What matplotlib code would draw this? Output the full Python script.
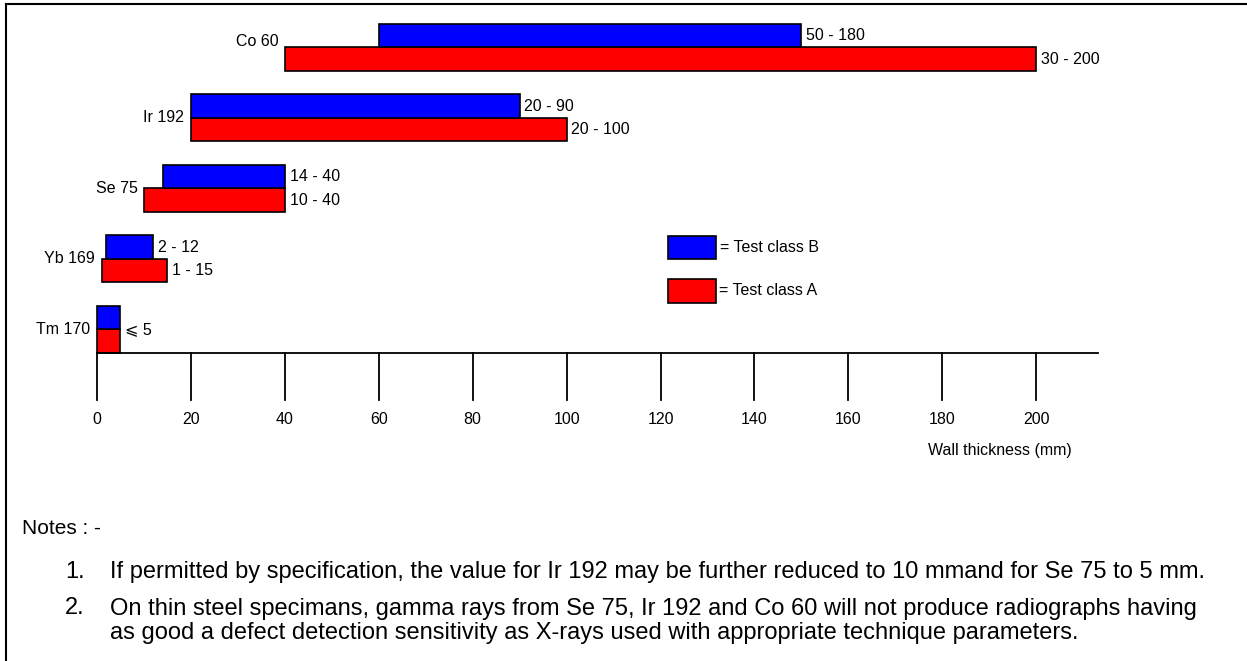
import matplotlib.pyplot as plt
from matplotlib.patches import Rectangle
from matplotlib.lines import Line2D

plt.rcParams["font.family"] = ["Liberation Sans", "DejaVu Sans"]

# Data
isotopes = ["Tm 170", "Yb 169", "Se 75", "Ir 192", "Co 60"]
class_b_start = [0, 2, 14, 20, 60]
class_b_end = [5, 12, 40, 90, 150]
class_a_start = [0, 1, 10, 20, 40]
class_a_end = [5, 15, 40, 100, 200]
class_b_labels = ["", "2 - 12", "14 - 40", "20 - 90", "50 - 180"]
class_a_labels = ["", "1 - 15", "10 - 40", "20 - 100", "30 - 200"]
tm_label = "⩽ 5"
ticks = [0, 20, 40, 60, 80, 100, 120, 140, 160, 180, 200]

notes_title = "Notes : -"
notes = [
    ("1.", "If permitted by specification, the value for Ir 192 may be further reduced to 10 mmand for Se 75 to 5 mm."),
    ("2.", "On thin steel specimans, gamma rays from Se 75, Ir 192 and Co 60 will not produce radiographs having\n"
           "as good a defect detection sensitivity as X-rays used with appropriate technique parameters."),
]

fig = plt.figure(figsize=(12.47, 6.61), dpi=100)
ax = fig.add_axes([0, 0, 1, 1])
ax.set_xlim(-20.66, 244.9)
ax.set_ylim(-4.369, 5.007)
ax.axis("off")

h = 1 / 3
fs = 11.5
for i, name in enumerate(isotopes):
    wa = class_a_end[i] - class_a_start[i]
    wb = class_b_end[i] - class_b_start[i]
    ax.barh(i + h / 2, wa, left=class_a_start[i], height=h,
            color="#ff0000", edgecolor="black", linewidth=1.2, align="center")
    ax.barh(i + 1.5 * h, wb, left=class_b_start[i], height=h,
            color="#0000ff", edgecolor="black", linewidth=1.2, align="center")
    if class_a_labels[i]:
        ax.text(class_a_end[i] + 1, i + h / 2, class_a_labels[i],
                va="center", ha="left", fontsize=fs)
        ax.text(class_b_end[i] + 1, i + 1.5 * h, class_b_labels[i],
                va="center", ha="left", fontsize=fs)
    else:
        ax.text(class_a_end[i] + 1, i + h, tm_label,
                va="center", ha="left", fontsize=fs)
    left = min(class_a_start[i], class_b_start[i])
    ylab = i + h + (0.08 if i == 4 else 0)
    ax.text(left - 1.4, ylab, name, va="center", ha="right", fontsize=fs)

# axis line and ticks
ax.plot([0, 213.2], [0, 0], color="black", linewidth=1.3)
for t in ticks:
    ax.plot([t, t], [0, -0.667], color="black", linewidth=1.3)
    ax.text(t, -0.95, str(t), ha="center", va="center", fontsize=fs)
ax.text(192.3, -1.38, "Wall thickness (mm)", ha="center", va="center", fontsize=fs)

# legend boxes
ax.add_patch(Rectangle((121.6, 1.333), 10.2, 0.33, facecolor="#0000ff",
                       edgecolor="black", linewidth=1.2))
ax.add_patch(Rectangle((121.6, 0.709), 10.2, 0.34, facecolor="#ff0000",
                       edgecolor="black", linewidth=1.2))
ax.text(132.6, 1.5, "= Test class B", va="center", ha="left", fontsize=fs)
ax.text(132.4, 0.88, "= Test class A", va="center", ha="left", fontsize=fs)

# notes
W, H = 1247, 661
nfs = 17
fig.text(22 / W, 1 - 528 / H, notes_title, va="center", ha="left", fontsize=15)
fig.text(65 / W, 1 - 572 / H, notes[0][0], va="center", ha="left", fontsize=nfs)
fig.text(110 / W, 1 - 572 / H, notes[0][1], va="center", ha="left", fontsize=nfs)
fig.text(65 / W, 1 - 608 / H, notes[1][0], va="center", ha="left", fontsize=nfs)
fig.text(110 / W, 1 - 621 / H, notes[1][1], va="center", ha="left", fontsize=nfs,
         linespacing=1.1)

# frame
fig.add_artist(Line2D([6 / W, 6 / W], [0, 1 - 4 / H], color="black",
                      linewidth=1.5, transform=fig.transFigure))
fig.add_artist(Line2D([6 / W, 1], [1 - 4 / H, 1 - 4 / H], color="black",
                      linewidth=1.5, transform=fig.transFigure))

fig.savefig("out.png", dpi=100)
